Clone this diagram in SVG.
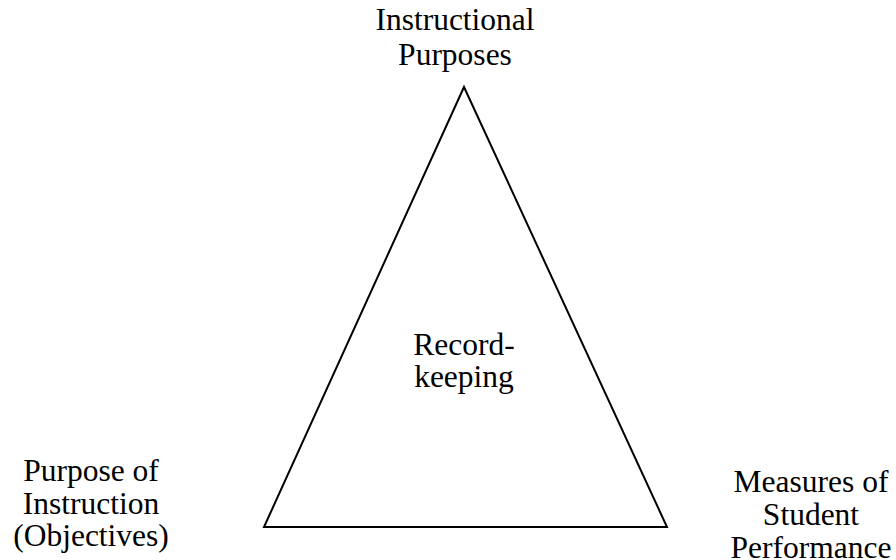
<svg xmlns="http://www.w3.org/2000/svg" width="896" height="560" viewBox="0 0 896 560">
<style>
.t{font-family:"Liberation Serif","Times New Roman",serif;font-size:31.5px;fill:#000;text-anchor:middle}
.edge{fill:none;stroke:#000;stroke-width:2;stroke-linejoin:miter}
</style>
<rect width="896" height="560" fill="#fff"/>
<g id="connectors">
<polygon class="edge" points="464,87 264,527 667,527"/>
</g>
<g id="node-instructional-purposes">
<text class="t" x="455" y="30">Instructional</text>
<text class="t" x="455" y="65">Purposes</text>
</g>
<g id="node-recordkeeping">
<text class="t" x="464" y="355">Record-</text>
<text class="t" x="464" y="387">keeping</text>
</g>
<g id="node-purpose-of-instruction">
<text class="t" x="91" y="481">Purpose of</text>
<text class="t" x="91" y="514">Instruction</text>
<text class="t" x="91" y="546">(Objectives)</text>
</g>
<g id="node-measures">
<text class="t" x="811" y="492">Measures of</text>
<text class="t" x="811" y="525">Student</text>
<text class="t" x="811" y="558">Performance</text>
</g>
</svg>
